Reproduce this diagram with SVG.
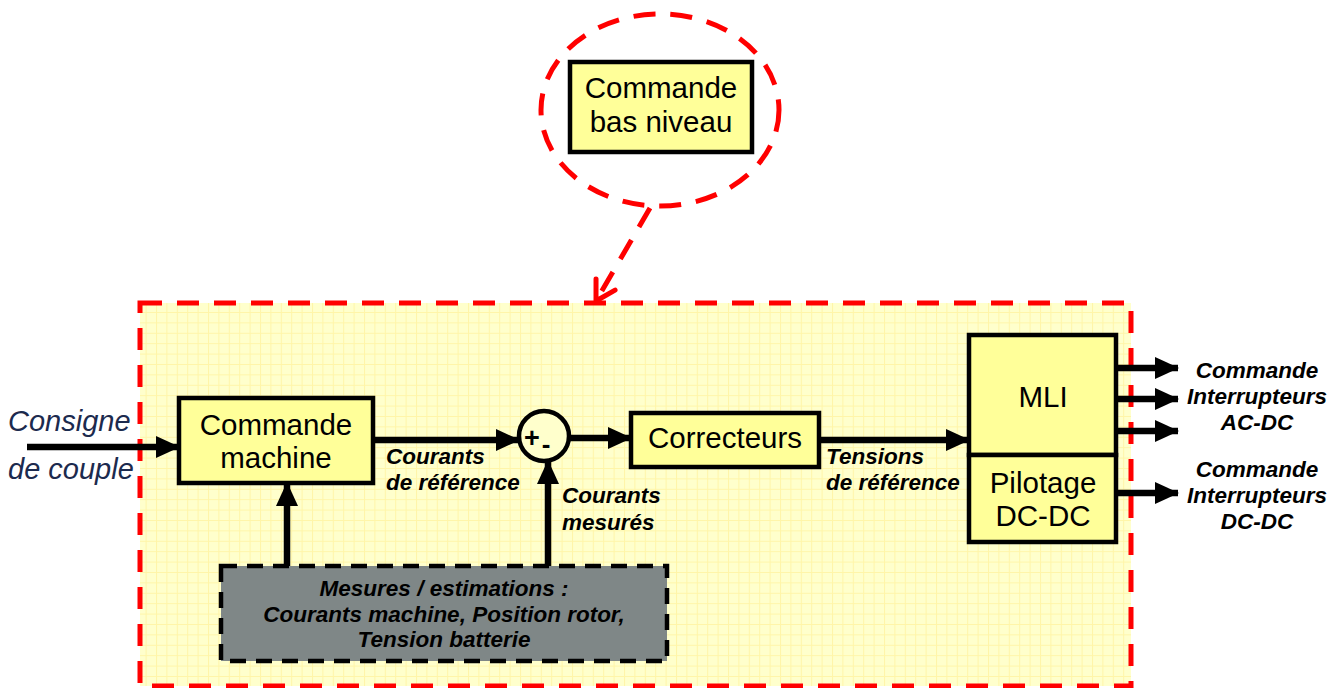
<svg xmlns="http://www.w3.org/2000/svg" width="1343" height="688" viewBox="0 0 1343 688">
<defs>
<pattern id="grid" x="0" y="0" width="10.4" height="10.4" patternUnits="userSpaceOnUse">
<rect width="10.4" height="10.4" fill="#FFFFCC"/>
<path d="M0 0.5 H10.4 M0.5 0 V10.4" stroke="#FFF5A8" stroke-width="1" fill="none"/>
</pattern>
<marker id="ah" markerUnits="userSpaceOnUse" markerWidth="24" markerHeight="24" viewBox="0 0 24 24" refX="23" refY="12" orient="auto">
<path d="M0 1 L24 12 L0 23 Z" fill="#000"/>
</marker>
<marker id="vh" markerUnits="userSpaceOnUse" markerWidth="30" markerHeight="30" viewBox="0 0 30 30" refX="27" refY="15" orient="auto">
<path d="M8 4 L27 15 L8 26" fill="none" stroke="#FF0000" stroke-width="5" stroke-linecap="round" stroke-linejoin="round"/>
</marker>
</defs>
<style>
.box{fill:#FFFF99;stroke:#000;stroke-width:4.5}
.big{font-family:"Liberation Sans",Arial,sans-serif;font-size:29.5px;fill:#000;text-anchor:middle}
.lbl{font-family:"Liberation Sans",Arial,sans-serif;font-size:22.5px;font-weight:bold;font-style:italic;fill:#000}
.c{text-anchor:middle}
.conn{stroke:#000;stroke-width:6.5;fill:none;marker-end:url(#ah)}
.red{stroke:#FF0000;stroke-width:5;fill:none;stroke-dasharray:22 15}
</style>

<g id="frame">
<rect x="140" y="303" width="991" height="383" fill="url(#grid)"/>
<rect x="140" y="303" width="991" height="383" class="red"/>
</g>

<g id="bubble">
<ellipse cx="660" cy="110" rx="119" ry="96" class="red" stroke-dasharray="20 15"/>
</g>

<g id="commande-bas-niveau">
<rect x="570" y="62" width="182" height="90" class="box"/>
<text x="661" y="98" class="big">Commande</text>
<text x="661" y="132" class="big">bas niveau</text>
</g>

<g id="consigne">
<text x="8" y="431" font-family="Liberation Sans,Arial,sans-serif" font-size="29" font-style="italic" fill="#1C2A4E">Consigne</text>
<text x="8" y="479" font-family="Liberation Sans,Arial,sans-serif" font-size="29" font-style="italic" fill="#1C2A4E">de couple</text>
</g>

<g id="commande-machine">
<rect x="179" y="398" width="194" height="85" class="box"/>
<text x="276" y="435" class="big">Commande</text>
<text x="276" y="468" class="big">machine</text>
</g>

<g id="sommateur">
<circle cx="544" cy="436" r="25" fill="#FFFFCC" stroke="#000" stroke-width="4.5"/>
<text x="532" y="447" font-family="Liberation Sans,Arial,sans-serif" font-size="27" font-weight="bold" text-anchor="middle">+</text>
<text x="546" y="453" font-family="Liberation Sans,Arial,sans-serif" font-size="26" font-weight="bold" text-anchor="middle">-</text>
</g>

<g id="correcteurs">
<rect x="631" y="413" width="188" height="54" class="box"/>
<text x="725" y="448" class="big">Correcteurs</text>
</g>

<g id="mli">
<rect x="969" y="335" width="147" height="120" class="box"/>
<text x="1043" y="407" class="big">MLI</text>
</g>

<g id="pilotage">
<rect x="969" y="455" width="147" height="87" class="box"/>
<text x="1043" y="493" class="big">Pilotage</text>
<text x="1043" y="526" class="big">DC-DC</text>
</g>

<g id="mesures">
<rect x="221" y="566" width="446" height="95" fill="#7F8787" stroke="#000" stroke-width="4.5" stroke-dasharray="16 10"/>
<text x="444" y="596" class="lbl c">Mesures / estimations :</text>
<text x="444" y="622" class="lbl c" font-size="23.5px">Courants machine, Position rotor,</text>
<text x="444" y="647" class="lbl c">Tension batterie</text>
</g>

<g id="connectors">
<path d="M650 208 L596 301" class="red" stroke-dasharray="20 14" marker-end="url(#vh)"/>
<path d="M27 447 H179" class="conn"/>
<path d="M373 440 H519" class="conn"/>
<path d="M569 438 H631" class="conn"/>
<path d="M819 440 H969" class="conn"/>
<path d="M287 566 V483" class="conn"/>
<path d="M548 566 V461" class="conn"/>
<path d="M1116 368 H1178" class="conn"/>
<path d="M1116 399 H1178" class="conn"/>
<path d="M1116 431 H1178" class="conn"/>
<path d="M1116 493 H1178" class="conn"/>
</g>

<g id="labels">
<text x="386" y="464" class="lbl">Courants</text>
<text x="386" y="490" class="lbl">de référence</text>
<text x="562" y="503" class="lbl">Courants</text>
<text x="562" y="530" class="lbl">mesurés</text>
<text x="826" y="464" class="lbl">Tensions</text>
<text x="826" y="490" class="lbl">de référence</text>
<text x="1257" y="378" class="lbl c">Commande</text>
<text x="1257" y="404" class="lbl c">Interrupteurs</text>
<text x="1257" y="430" class="lbl c">AC-DC</text>
<text x="1257" y="477" class="lbl c">Commande</text>
<text x="1257" y="503" class="lbl c">Interrupteurs</text>
<text x="1257" y="529" class="lbl c">DC-DC</text>
</g>
</svg>
